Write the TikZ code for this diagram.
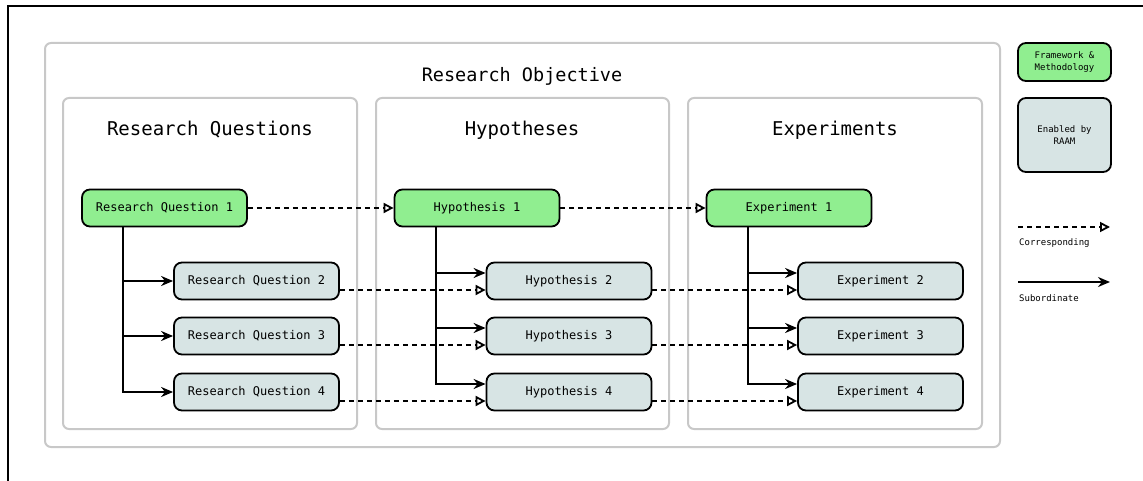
\documentclass[tikz,border=0pt]{standalone}
\usepackage{fontspec}
\setmainfont{DejaVu Sans Mono}
\usetikzlibrary{arrows.meta}
\definecolor{fwgreen}{HTML}{90EE90}
\definecolor{raamgray}{HTML}{D7E4E4}
\definecolor{boxgray}{HTML}{C8C8C8}

\begin{document}
\begin{tikzpicture}[x=1pt,y=-1pt,
  group/.style={draw=boxgray,line width=2pt,rounded corners=6pt},
  fw/.style={draw,line width=1.8pt,rounded corners=8pt,fill=fwgreen,minimum width=165pt,minimum height=37pt,inner sep=0pt,font=\fontsize{12}{14}\selectfont},
  raam/.style={fw,fill=raamgray},
  legend/.style={font=\fontsize{9}{11.5}\selectfont,align=center},
  corr/.style={line width=2pt,dash pattern=on 5pt off 4pt,-{Triangle[open,length=10pt,width=10pt,line width=1.8pt]}},
  sub/.style={line width=2pt,-{Stealth[length=12pt,width=10pt]}}]
\useasboundingbox (0,0) rectangle (1143,481);
\draw[line width=2pt] (8,481) -- (8,6) -- (1143,6);
% groups
\draw[group] (45,43) rectangle (1000,447);
\draw[group] (63,98) rectangle (357,429);
\draw[group] (376,98) rectangle (669,429);
\draw[group] (688,98) rectangle (982,429);
\node[font=\fontsize{18.5}{21}\selectfont] (objective) at (522,76) {Research Objective};
\node[font=\fontsize{19}{22}\selectfont] (questions) at (210,130) {Research Questions};
\node[font=\fontsize{19}{22}\selectfont] (hypotheses) at (522,130) {Hypotheses};
\node[font=\fontsize{19}{22}\selectfont] (experiments) at (835,130) {Experiments};
% framework nodes
\node[fw] (rq1) at (164.5,208) {Research Question 1};
\node[fw] (hy1) at (477,208) {Hypothesis 1};
\node[fw] (ex1) at (789,208) {Experiment 1};
\draw[corr] (rq1) -- (hy1);
\draw[corr] (hy1) -- (ex1);
% subordinate nodes
\foreach \i/\y in {2/281,3/336,4/392}{
  \node[raam] (rq\i) at (256.5,\y) {Research Question \i};
  \node[raam] (hy\i) at (569,\y) {Hypothesis \i};
  \node[raam] (ex\i) at (880.5,\y) {Experiment \i};
  \draw[sub] ([xshift=-41.5pt]rq1.south) |- (rq\i.west);
  \draw[sub] ([xshift=-41pt]hy1.south) |- ([yshift=8pt]hy\i.west);
  \draw[sub] ([xshift=-41pt]ex1.south) |- ([yshift=8pt]ex\i.west);
  \draw[corr] ([yshift=-9pt]rq\i.east) -- ([yshift=-9pt]hy\i.west);
  \draw[corr] ([yshift=-9pt]hy\i.east) -- ([yshift=-9pt]ex\i.west);
}
% legend
\node[fw,legend,minimum width=93pt,minimum height=38pt] (lgfw) at (1064.5,62) {Framework \&\\Methodology};
\node[raam,legend,minimum width=93pt,minimum height=74pt] (lgraam) at (1064.5,135) {Enabled by\\RAAM};
\coordinate (c1) at (1018,227); \coordinate (c2) at (1110,227);
\coordinate (s1) at (1018,282); \coordinate (s2) at (1110,282);
\draw[corr] (c1) -- (c2);
\draw[sub] (s1) -- (s2);
\node[legend,anchor=west,inner sep=0pt] (lgcorr) at (1019,243) {Corresponding};
\node[legend,anchor=west,inner sep=0pt] (lgsub) at (1019,298) {Subordinate};
\end{tikzpicture}
\end{document}
